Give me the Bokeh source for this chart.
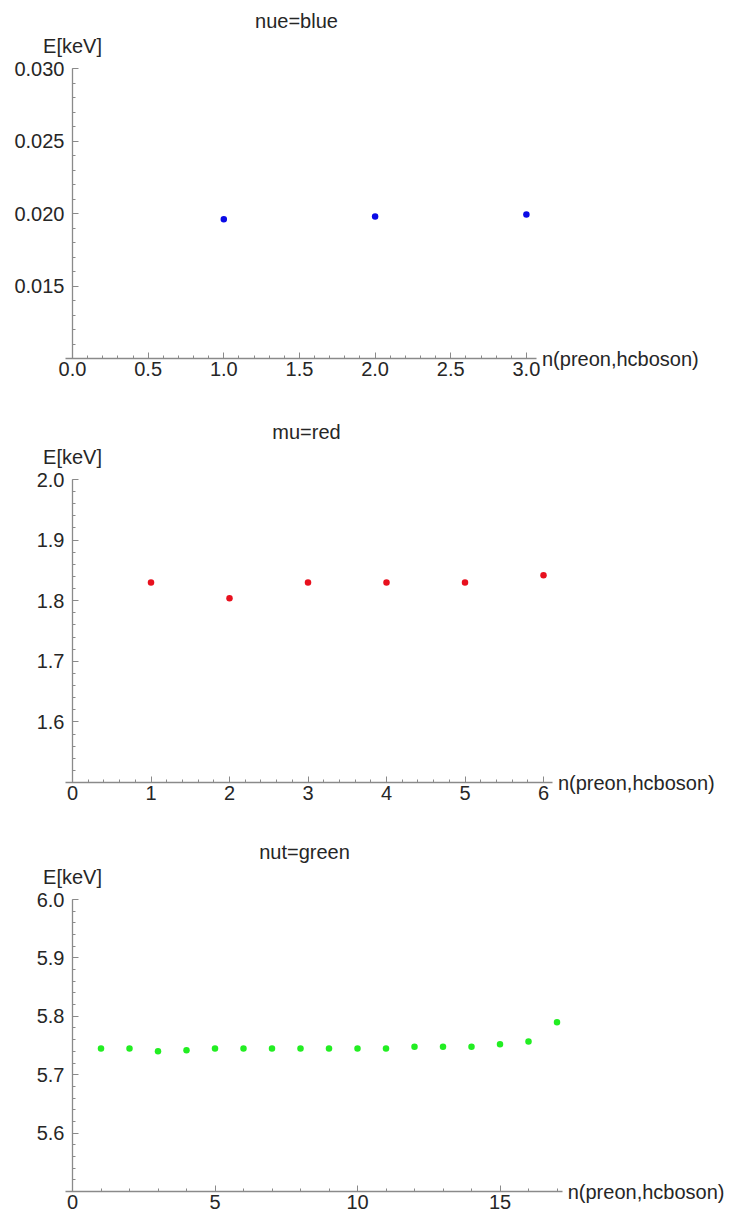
import numpy as np
from bokeh.plotting import figure
from bokeh.models import Range1d, FixedTicker, Label, PrintfTickFormatter
from bokeh.layouts import column
from bokeh.embed import file_html
from bokeh.resources import INLINE

# ---- data ----
nue_n = [1, 2, 3]
nue_E = [0.01960, 0.01979, 0.01993]

mu_n = [1, 2, 3, 4, 5, 6]
mu_E = [1.830, 1.804, 1.830, 1.830, 1.830, 1.842]

nut_n = [1, 2, 3, 4, 5, 6, 7, 8, 9, 10, 11, 12, 13, 14, 15, 16, 17]
nut_E = [5.745, 5.745, 5.740, 5.742, 5.745, 5.745, 5.745, 5.745, 5.745,
         5.745, 5.745, 5.748, 5.748, 5.748, 5.752, 5.757, 5.790]

titles = ["nue=blue", "mu=red", "nut=green"]
x_label = "n(preon,hcboson)"
y_label = "E[keV]"

nue_xticks = [0.0, 0.5, 1.0, 1.5, 2.0, 2.5, 3.0]
nue_yticks = [0.015, 0.020, 0.025, 0.030]
mu_xticks = [0, 1, 2, 3, 4, 5, 6]
mu_yticks = [1.6, 1.7, 1.8, 1.9, 2.0]
nut_xticks = [0, 5, 10, 15]
nut_yticks = [5.6, 5.7, 5.8, 5.9, 6.0]

FONT = "Liberation Sans"
FS = "20px"
AXIS_COL = "#8a8a8a"
TXT_COL = "#262626"
W = 730


def panel(xs, ys, color, title, H, x0_px, px_per_x, xmax, ytop_px, ybot_px, ymin, ymax,
          xticks, xminor, xfmt, yticks, yminor, yfmt, title_dx):
    # frame = whole canvas; axes are drawn at fixed data locations inside it
    xs0 = -x0_px / px_per_x
    xe0 = (W - x0_px) / px_per_x
    py = (ybot_px - ytop_px) / (ymax - ymin)
    ye0 = ymax + ytop_px / py
    ys0 = ymin - (H - ybot_px) / py

    p = figure(width=W, height=H, output_backend="svg", toolbar_location=None,
               x_range=Range1d(xs0, xe0), y_range=Range1d(ys0, ye0),
               min_border=0, min_border_left=0, min_border_right=0,
               min_border_top=0, min_border_bottom=0)
    p.title.visible = False
    p.outline_line_color = None
    p.grid.visible = False
    p.background_fill_color = "white"
    p.border_fill_color = "white"

    p.xaxis.ticker = FixedTicker(ticks=xticks, minor_ticks=list(xminor))
    p.yaxis.ticker = FixedTicker(ticks=yticks, minor_ticks=list(yminor))
    p.xaxis.formatter = PrintfTickFormatter(format=xfmt)
    p.yaxis.formatter = PrintfTickFormatter(format=yfmt)
    p.xaxis.fixed_location = ymin
    p.yaxis.fixed_location = 0
    p.xaxis.bounds = (-7 / px_per_x, xmax)
    p.yaxis.bounds = (ymin, ymax)
    for ax in (p.xaxis, p.yaxis):
        ax.axis_line_color = AXIS_COL
        ax.axis_line_width = 1.3
        ax.major_tick_line_color = AXIS_COL
        ax.minor_tick_line_color = AXIS_COL
        ax.major_tick_in = 6
        ax.major_tick_out = 0
        ax.minor_tick_in = 3
        ax.minor_tick_out = 0
        ax.major_label_text_font = FONT
        ax.major_label_text_font_size = FS
        ax.major_label_text_color = TXT_COL
    p.xaxis.major_label_standoff = 3
    p.yaxis.major_label_standoff = 8

    p.scatter(xs, ys, size=6.5, fill_color=color, line_color=None)

    p.add_layout(Label(x=0, y=ymax, y_offset=23, text=y_label,
                       text_align="center", text_baseline="middle",
                       text_font=FONT, text_font_size=FS, text_color=TXT_COL))
    p.add_layout(Label(x=xmax, y=ymin, x_offset=5, text=x_label,
                       text_align="left", text_baseline="middle",
                       text_font=FONT, text_font_size=FS, text_color=TXT_COL))
    p.add_layout(Label(x=0, y=ymax, x_offset=title_dx, y_offset=48, text=title,
                       text_align="center", text_baseline="middle",
                       text_font=FONT, text_font_size=FS, text_color=TXT_COL))
    return p


p1 = panel(nue_n, nue_E, "#0a0ae6", titles[0], 412, 72, 151.3, 3.07, 68, 358, 0.010, 0.030,
           nue_xticks, np.arange(0, 3.05, 0.1), "%.1f",
           nue_yticks, np.arange(0.010, 0.0305, 0.001), "%.3f", title_dx=224)
p2 = panel(mu_n, mu_E, "#e8101e", titles[1], 418, 72, 78.5, 6.12, 67, 370, 1.5, 2.0,
           mu_xticks, np.arange(0, 6.05, 0.2), "%.0f",
           mu_yticks, np.arange(1.5, 2.005, 0.02), "%.1f", title_dx=234)
p3 = panel(nut_n, nut_E, "#22ee22", titles[2], 389, 72, 28.5, 17.2, 69, 361, 5.5, 6.0,
           nut_xticks, np.arange(0, 17.05, 1.0), "%.0f",
           nut_yticks, np.arange(5.5, 6.005, 0.02), "%.1f", title_dx=232)

layout = column(p1, p2, p3, spacing=0)
open("out.html", "w").write(file_html(layout, INLINE))
